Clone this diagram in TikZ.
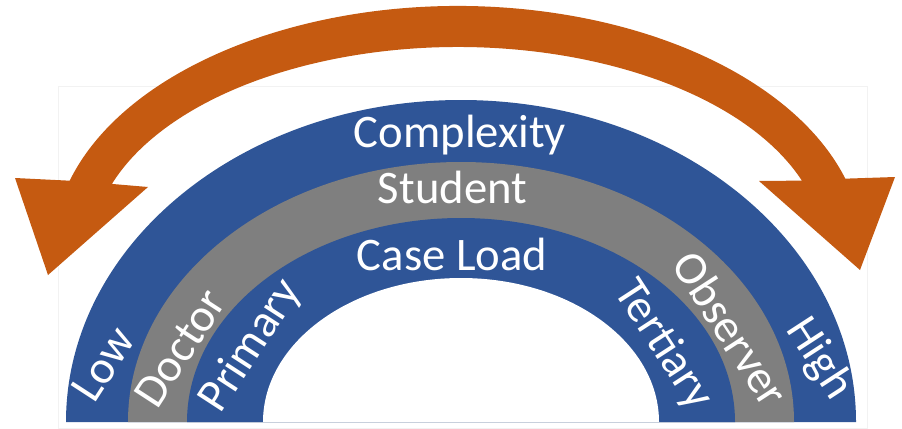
\documentclass[tikz,border=0pt]{standalone}
\usepackage{fontspec}
\setmainfont{Carlito}
\usepackage{xcolor}
\definecolor{ringblue}{RGB}{47,85,151}
\definecolor{ringgray}{RGB}{127,127,127}
\definecolor{arroworange}{RGB}{197,90,17}
\begin{document}
\begin{tikzpicture}[x=0.75pt,y=0.75pt,yscale=-1,xscale=1,
        ringlbl/.style={text=white,inner sep=0pt,font=\fontsize{35}{42}\selectfont}]
        \useasboundingbox (0,0) rectangle (902,428);
        
        %Shape: Rectangle [id:frame] 
        \draw [color=black!5, fill=white] (58,86) -- (867,86) -- (867,428) -- (58,428) -- cycle ;
        
        %Shape: Block Arc [id:outer] 
        \fill [ringblue] (66,422) arc[start angle=180, end angle=360, x radius=395, y radius=322] -- cycle ;
        %Shape: Block Arc [id:middle] 
        \fill [ringgray] (128,422) arc[start angle=180, end angle=360, x radius=333, y radius=260] -- cycle ;
        %Shape: Block Arc [id:inner] 
        \fill [ringblue] (187,422) arc[start angle=180, end angle=360, x radius=274, y radius=204] -- cycle ;
        \fill [white] (263,422) arc[start angle=180, end angle=360, x radius=198, y radius=144] -- cycle ;
        
        %Shape: Circular Arrow [id:arrow] 
        \fill [arroworange] (69.7,180.7) arc[start angle=196.5, end angle=343, x radius=405, y radius=244]
          -- (895,177) -- (860,270) -- (759,181) -- (801.9,180.6)
          arc[start angle=340, end angle=199, x radius=366, y radius=203]
          -- (148,187) -- (48,275) -- (15,178) -- cycle ;
        
        % Text Node
        \node [ringlbl, anchor=base] (complexity) at (460,147) {Complexity};
        % Text Node
        \node [ringlbl, anchor=base] (student) at (452.5,203) {Student};
        % Text Node
        \node [ringlbl, anchor=base] (caseload) at (452,270) {Case Load};
        
        % Text Node
        \node [ringlbl, rotate=57] (low) at (103,364) {Low};
        % Text Node
        \node [ringlbl, rotate=57] (doctor) at (180,348) {Doctor};
        % Text Node
        \node [ringlbl, rotate=57] (primary) at (251,346) {Primary};
        % Text Node
        \node [ringlbl, rotate=-57] (tertiary) at (663,345) {Tertiary};
        % Text Node
        \node [ringlbl, rotate=-57] (observer) at (731,329) {Observer};
        % Text Node
        \node [ringlbl, rotate=-57] (high) at (819,359) {High};
        
        \end{tikzpicture}
\end{document}
